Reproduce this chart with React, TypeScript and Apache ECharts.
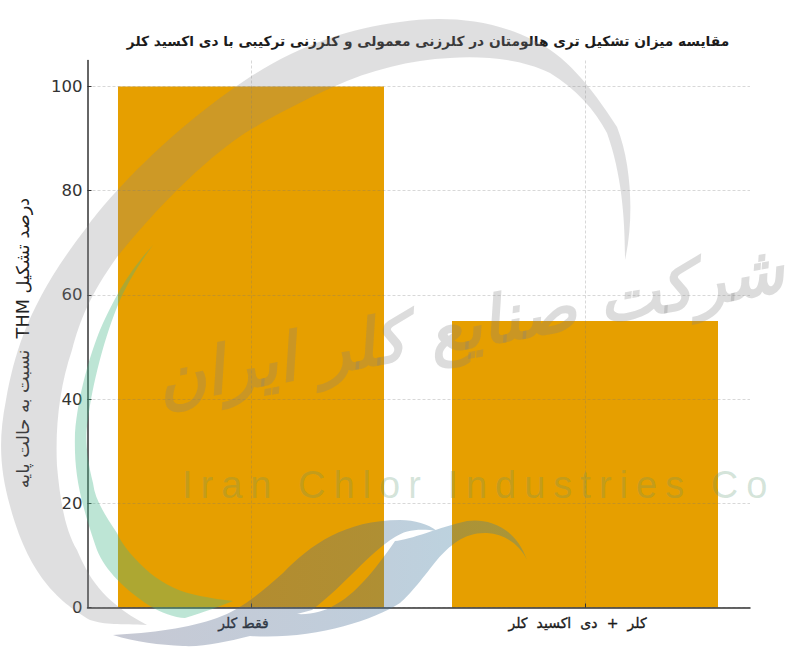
import React, { useEffect, useRef } from "react";
import * as echarts from "echarts";

const chartTitle = "مقایسه میزان تشکیل تری هالومتان در کلرزنی معمولی و کلرزنی ترکیبی با دی اکسید کلر";
const yAxisTitle = "درصد تشکیل THM  نسبت به حالت پایه";
const categories = ["فقط کلر", "کلر + دی اکسید کلر"];
const categoryPositions = [0, 1];
const thmPercent = [100, 55];
const yTicks = [0, 20, 40, 60, 80, 100];
const watermarkFa = "شرکت صنایع کلر ایران";
const watermarkEn = "Iran Chlor Industries Co";

const GRAY_ARC =
  "M147,625 C120,624 105,625 90,620 C62,603 30,580 10,506 C0,470 -2,440 6,400 C15,350 30,300 87,227 C110,195 170,130 250,77 C300,45 350,28 400,22 C440,16 490,18 533,40 C565,55 590,85 617,127 C632,165 634,220 625,260 C625,220 622,175 607,133 C595,110 575,88 550,73 C520,58 480,56 450,58 C410,60 370,70 333,87 C300,102 270,118 250,130 C225,145 175,185 117,257 C90,295 80,320 72,350 C60,385 55,425 57,466 C60,500 65,530 77,550 C88,575 100,600 147,625 Z";
const GREEN_SWOOSH =
  "M153,245 C135,265 120,285 100,330 C90,355 78,395 75,433 C74,470 78,495 97,550 C105,570 125,590 150,606 C160,612 175,618 185,618 C205,612 220,606 233,601 C222,600 212,598 200,596 C180,592 165,585 150,573 C135,560 122,545 117,533 C105,515 95,500 93,483 C86,455 85,435 88,420 C92,385 105,335 120,300 C130,278 142,260 153,245 Z";
const BLUE_WAVE =
  "M113,635 C150,633 190,628 217,618 C240,610 262,592 283,573 C310,545 345,520 400,520 C415,520 428,524 437,531 C420,528 405,530 395,537 C370,552 345,585 312,610 L297,614 C310,615 325,611 333,606 C355,595 375,570 395,541 C410,540 440,527 467,521 C485,518 515,525 527,560 C520,545 505,534 487,533 C465,532 450,545 437,560 C425,575 410,595 400,603 C370,622 310,640 250,636 C225,642 205,647 183,646 C160,645 135,642 113,635 Z";

echarts.graphic.registerShape("grayArc", echarts.graphic.extendPath(GRAY_ARC as any, {}) as any);
echarts.graphic.registerShape("greenSwoosh", echarts.graphic.extendPath(GREEN_SWOOSH as any, {}) as any);
echarts.graphic.registerShape("blueWave", echarts.graphic.extendPath(BLUE_WAVE as any, {}) as any);

export default function App() {
  const ref = useRef<HTMLDivElement>(null);
  useEffect(() => {
    document.body.style.margin = "0";
    const chart = echarts.init(ref.current!, null, { renderer: "svg" });
    const font = "'DejaVu Sans'";
    const gridLine = { type: [3, 2], color: "rgba(120,120,120,0.36)", width: 0.8 };
    chart.setOption({
      animation: false,
      backgroundColor: "#ffffff",
      title: {
        text: chartTitle,
        left: 423,
        top: 29,
        textAlign: "center",
        textStyle: { fontFamily: font, fontSize: 13.75, fontWeight: "bold", color: "#1c1c1c" },
      },
      grid: { left: 87.5, right: 50, top: 60.5, bottom: 58.5 },
      xAxis: {
        type: "value",
        min: -0.4895,
        max: 1.494,
        z: 3,
        axisLine: { show: true, onZero: false, lineStyle: { color: "#333333", width: 1.5 } },
        axisTick: { show: true, inside: true, length: 4, customValues: categoryPositions, lineStyle: { color: "#333333" } },
        axisLabel: {
          customValues: categoryPositions,
          formatter: (v: number) => categories[Math.round(v)],
          fontFamily: font,
          fontSize: 14,
          color: "#1c1c1c",
          textBorderColor: "#1c1c1c",
          textBorderWidth: 0.35,
          margin: 8,
          padding: [0, 15, 0, 0],
        },
        splitLine: { show: true, lineStyle: gridLine },
      },
      yAxis: {
        type: "value",
        min: 0,
        max: 105,
        interval: 20,
        z: 3,
        name: yAxisTitle,
        nameLocation: "middle",
        nameGap: 56,
        nameRotate: 90,
        nameTextStyle: {
          fontFamily: font,
          fontSize: 17.7,
          color: "#222222",
          padding: [0, 18, 0, 0],
        },
        axisLine: { show: true, onZero: false, lineStyle: { color: "#333333", width: 1.5 } },
        axisTick: { show: true, inside: true, length: 4, customValues: yTicks, lineStyle: { color: "#333333" } },
        axisLabel: { customValues: yTicks, fontFamily: font, fontSize: 16.5, color: "#333333", margin: 5 },
        splitLine: { show: true, lineStyle: gridLine },
      },
      series: [
        {
          type: "bar",
          barWidth: 266,
          data: categoryPositions.map((p, i) => [p, thmPercent[i]]),
          itemStyle: { color: "#E69F00" },
        },
      ],
      graphic: [
        { type: "grayArc", silent: true, z: 20, style: { fill: "rgba(138,138,142,0.27)" } },
        { type: "greenSwoosh", silent: true, z: 21, style: { fill: "rgba(72,184,138,0.36)" } },
        {
          type: "blueWave",
          silent: true,
          z: 22,
          style: {
            fill: new echarts.graphic.LinearGradient(0, 0, 1, 0, [
              { offset: 0, color: "rgba(90,96,128,0.34)" },
              { offset: 0.6, color: "rgba(70,110,150,0.34)" },
              { offset: 1, color: "rgba(52,132,166,0.34)" },
            ]),
          },
        },
        {
          type: "text",
          silent: true,
          z: 23,
          x: 470,
          y: 325,
          rotation: 0.18,
          style: {
            text: watermarkFa,
            align: "center",
            verticalAlign: "middle",
            font: "italic bold 66px 'DejaVu Sans'",
            fill: "rgba(130,130,130,0.28)",
          },
        },
        {
          type: "text",
          silent: true,
          z: 24,
          x: 182,
          y: 485,
          style: {
            text: watermarkEn,
            align: "left",
            verticalAlign: "middle",
            font: "38px 'Liberation Sans'",
            fill: "rgba(90,150,110,0.26)",
          },
        },
      ],
    });
    const adjustText = () => {
      ref.current?.querySelectorAll("text").forEach((t) => {
        const el = t as SVGTextElement;
        if (t.textContent === watermarkEn) el.style.letterSpacing = "8px";
        if (t.textContent === yAxisTitle) el.style.direction = "rtl";
        if (t.textContent === categories[1]) el.style.wordSpacing = "4.7px";
      });
    };
    adjustText();
    const raf = requestAnimationFrame(adjustText);
    return () => {
      cancelAnimationFrame(raf);
      chart.dispose();
    };
  }, []);
  return <div ref={ref} style={{ width: 800, height: 666 }} />;
}
